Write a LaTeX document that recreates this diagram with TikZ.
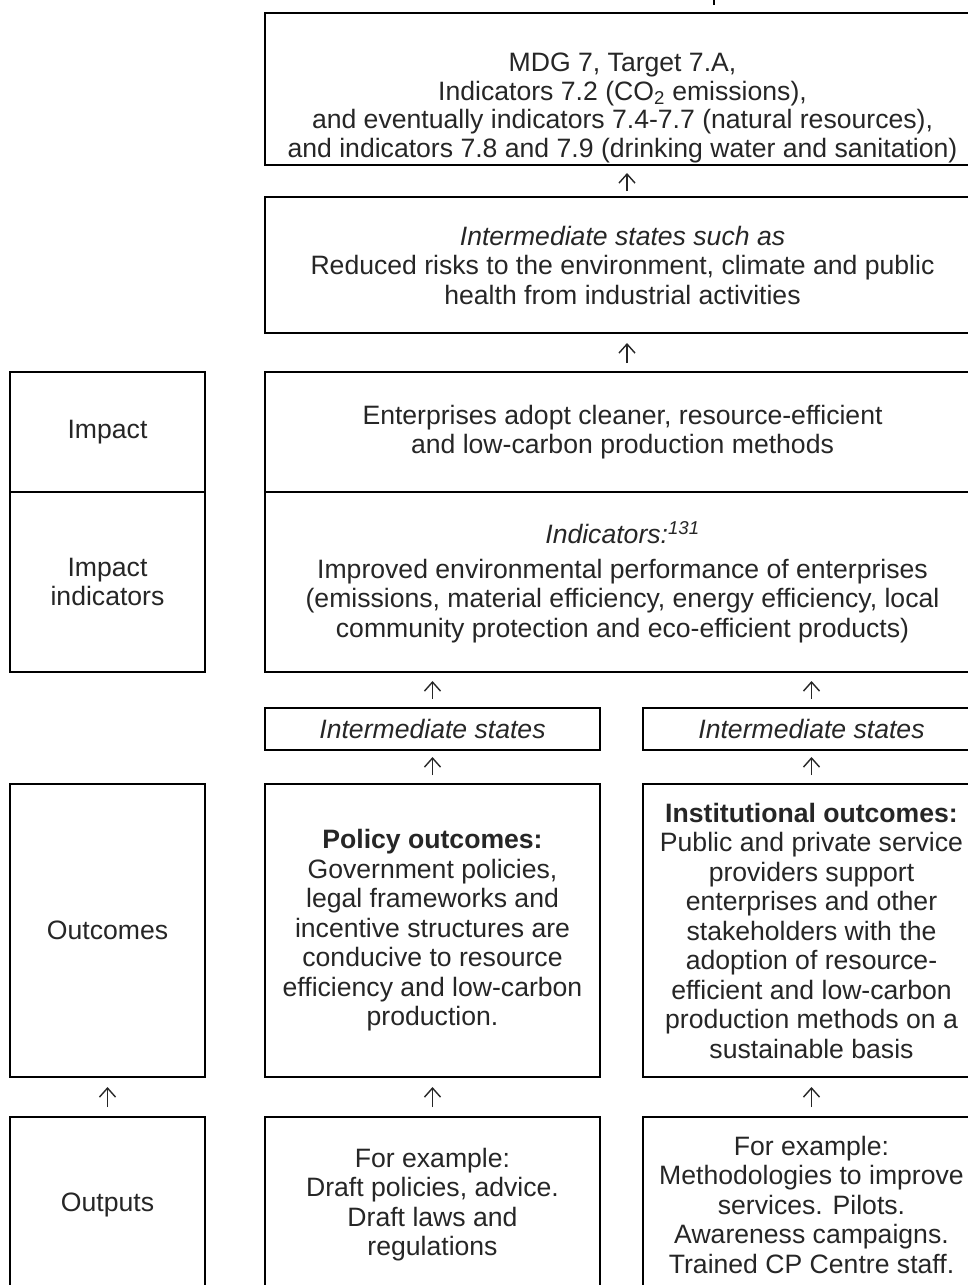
\documentclass[tikz,border=0pt]{standalone}
\usepackage{fontspec}
\setmainfont{Liberation Sans}
\usetikzlibrary{arrows.meta}
\begin{document}
\begin{tikzpicture}[x=1pt,y=-1pt,
  box/.style={draw=black,line width=2pt,rectangle,inner sep=0pt,align=center,
    font=\fontsize{26.6}{29.5}\selectfont,text=black!85},
  arr/.style={line width=1.4pt,draw=black!85,
    -{Straight Barb[length=9pt,width=16pt,line width=1.4pt]}}]
\clip (0,0) rectangle (968,1285);
\fill[white] (0,0) rectangle (968,1285);

% remnant of the line above the chart
\coordinate (tickA) at (714,0);
\coordinate (tickB) at (714,5);
\draw[line width=1.3pt] (tickA) -- (tickB);

% right-hand chain
\node[box,minimum width=715pt,minimum height=152pt] (goal) at (622.5,89) {};
\node[box,draw=none,font=\fontsize{26.6}{28.7}\selectfont] (goaltext) at (622.5,108)
  {MDG 7, Target 7.A,\\
   Indicators 7.2 (CO\textsubscript{2} emissions),\\
   and eventually indicators 7.4-7.7 (natural resources),\\
   and indicators 7.8 and 7.9 (drinking water and sanitation)};
\node[box,minimum width=715pt,minimum height=136pt] (inter) at (622.5,265)
  {\textit{Intermediate states such as}\\
   Reduced risks to the environment, climate and public\\
   health from industrial activities};
\node[box,minimum width=715pt,minimum height=120pt] (impact) at (622.5,432)
  {Enterprises adopt cleaner, resource-efficient\\
   and low-carbon production methods};
\node[box,minimum width=715pt,minimum height=180pt] (indic) at (622.5,582)
  {\textit{Indicators:\textsuperscript{131}}\\[5pt]
   Improved environmental performance of enterprises\\
   (emissions, material efficiency, energy efficiency, local\\
   community protection and eco-efficient products)};

% two parallel strands
\node[box,minimum width=335pt,minimum height=42pt] (ims1) at (432.5,729)
  {\textit{Intermediate states}};
\node[box,minimum width=337pt,minimum height=42pt] (ims2) at (811.5,729)
  {\textit{Intermediate states}};
\node[box,minimum width=335pt,minimum height=293pt] (policy) at (432.5,930.5)
  {\textbf{Policy outcomes:}\\
   Government policies,\\
   legal frameworks and\\
   incentive structures are\\
   conducive to resource\\
   efficiency and low-carbon\\
   production.};
\node[box,minimum width=337pt,minimum height=293pt] (inst) at (811.5,930.5)
  {\textbf{Institutional outcomes:}\\
   Public and private service\\
   providers support\\
   enterprises and other\\
   stakeholders with the\\
   adoption of resource-\\
   efficient and low-carbon\\
   production methods on a\\
   sustainable basis};
\node[box,minimum width=335pt,minimum height=175pt] (outp1) at (432.5,1204.5)
  {For example:\\
   Draft policies, advice.\\
   Draft laws and\\
   regulations};
\node[box,minimum width=337pt,minimum height=175pt] (outp2) at (811.5,1204.5)
  {For example:\\
   Methodologies to improve\\
   services. Pilots.\\
   Awareness campaigns.\\
   Trained CP Centre staff.};

% level labels
\node[box,minimum width=195pt,minimum height=120pt] (limpact) at (107.5,432) {Impact};
\node[box,minimum width=195pt,minimum height=180pt] (lindic) at (107.5,582) {Impact\\indicators};
\node[box,minimum width=195pt,minimum height=293pt] (loutc) at (107.5,930.5) {Outcomes};
\node[box,minimum width=195pt,minimum height=175pt] (loutp) at (107.5,1204.5) {Outputs};

% arrows
\draw[arr,shorten <=5pt,shorten >=7pt] ([xshift=4.5pt]inter.north) -- ([xshift=4.5pt]goal.south);
\draw[arr,shorten <=8pt,shorten >=9pt] ([xshift=4.5pt]impact.north) -- ([xshift=4.5pt]inter.south);
\draw[arr,shorten <=8pt,shorten >=8pt] (ims1.north) -- (ims1.north |- indic.south);
\draw[arr,shorten <=8pt,shorten >=8pt] (ims2.north) -- (ims2.north |- indic.south);
\draw[arr,shorten <=8pt,shorten >=6pt] (policy.north) -- (ims1.south);
\draw[arr,shorten <=8pt,shorten >=6pt] (inst.north) -- (ims2.south);
\draw[arr,shorten <=9pt,shorten >=9pt] (outp1.north) -- (policy.south);
\draw[arr,shorten <=9pt,shorten >=9pt] (outp2.north) -- (inst.south);
\draw[arr,shorten <=9pt,shorten >=9pt] (loutp.north) -- (loutc.south);
\end{tikzpicture}
\end{document}
